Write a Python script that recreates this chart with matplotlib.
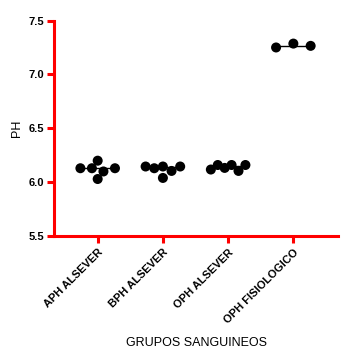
import numpy as np
import matplotlib
matplotlib.use("Agg")
import matplotlib.pyplot as plt

categories = ["APH ALSEVER", "BPH ALSEVER", "OPH ALSEVER", "OPH FISIOLOGICO"]
aph_alsever = [6.13, 6.13, 6.20, 6.10, 6.13, 6.03]
bph_alsever = [6.146, 6.13, 6.04, 6.146, 6.105, 6.146]
oph_alsever = [6.118, 6.16, 6.133, 6.16, 6.105, 6.16]
oph_fisiologico = [7.25, 7.286, 7.265]
groups = [aph_alsever, bph_alsever, oph_alsever, oph_fisiologico]
yticks = [5.5, 6.0, 6.5, 7.0, 7.5]

plt.rcParams['font.family'] = ['Liberation Sans', 'DejaVu Sans']
RED = '#ff0000'

fig = plt.figure(figsize=(3.46, 3.60), dpi=100)
ax = fig.add_axes([0.156, 0.344, 0.821, 0.599])

half_w = 0.265
row_gap = 0.05

def swarm_offsets(vals):
    vals = np.asarray(vals, float)
    order = np.argsort(vals, kind='stable')
    rows, cur = [], [order[0]]
    for a, b in zip(order[:-1], order[1:]):
        if vals[b] - vals[a] < row_gap:
            cur.append(b)
        else:
            rows.append(cur); cur = [b]
    rows.append(cur)
    offs = np.zeros(len(vals))
    for r in rows:
        r = sorted(r)
        n = len(r)
        if n > 1:
            pos = np.linspace(-half_w, half_w, n)
            for i, idx in enumerate(r):
                offs[idx] = pos[i]
    return offs

for i, vals in enumerate(groups):
    offs = swarm_offsets(vals)
    med = np.median(vals)
    ax.plot([i - half_w, i + half_w], [med, med], color='black', lw=1.0, zorder=2)
    ax.scatter(i + offs, vals, s=52, color='black', edgecolors='none', zorder=3)

ax.set_xlim(-0.67, 3.685)
ax.set_ylim(5.5, 7.5)
ax.set_yticks(yticks)
ax.set_yticklabels([f"{t:.1f}" for t in yticks], fontsize=8, fontweight='bold')
ax.set_xticks(range(len(categories)))
ax.set_xticklabels(categories, rotation=45, ha='right', rotation_mode='anchor',
                   fontsize=8, fontweight='bold')

for s in ['top', 'right']:
    ax.spines[s].set_visible(False)
for s in ['left', 'bottom']:
    ax.spines[s].set_color(RED)
    ax.spines[s].set_linewidth(2.2)
ax.tick_params(axis='both', colors=RED, width=2.2, length=5, labelcolor='black')
ax.tick_params(axis='y', pad=2)
ax.tick_params(axis='x', pad=3)

ax.set_ylabel("PH", fontsize=9, labelpad=4)
ax.set_xlabel("GRUPOS SANGUINEOS", fontsize=9, labelpad=8)

fig.savefig("out.png", dpi=100)
